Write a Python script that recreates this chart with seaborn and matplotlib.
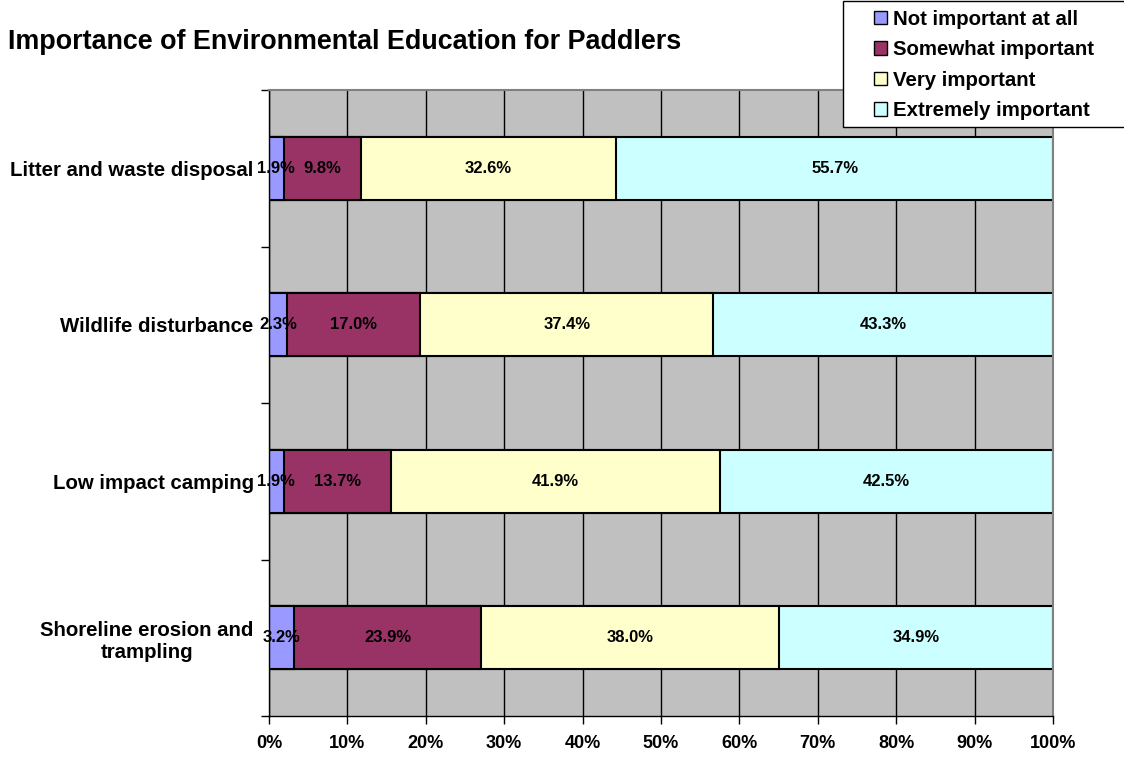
import matplotlib
matplotlib.use("Agg")
import matplotlib.pyplot as plt
from matplotlib.patches import Patch, Rectangle
from matplotlib.ticker import FixedLocator, PercentFormatter
import numpy as np
import pandas as pd
import seaborn as sns

# data (percent of respondents)
topics = ["Litter and waste disposal", "Wildlife disturbance",
          "Low impact camping", "Shoreline erosion and\ntrampling"]
levels = ["Not important at all", "Somewhat important",
          "Very important", "Extremely important"]
not_important = [1.9, 2.3, 1.9, 3.2]
somewhat = [9.8, 17.0, 13.7, 23.9]
very = [32.6, 37.4, 41.9, 38.0]
extremely = [55.7, 43.3, 42.5, 34.9]
colors = ["#9999FF", "#993366", "#FFFFCC", "#CCFFFF"]

df = pd.DataFrame({"topic": topics})
for lvl, vals in zip(levels, [not_important, somewhat, very, extremely]):
    df[lvl] = vals
cum = df[levels].cumsum(axis=1)

sns.set_style("white")
plt.rcParams["font.family"] = ["Liberation Sans", "DejaVu Sans"]
plt.rcParams["font.weight"] = "bold"
plt.rcParams["text.color"] = "black"
plt.rcParams["xtick.color"] = "black"
plt.rcParams["ytick.color"] = "black"

fig = plt.figure(figsize=(11.24, 7.63), dpi=100)
ax = fig.add_axes([0.2393, 0.0616, 0.6975, 0.8204])
ax.set_facecolor("#C0C0C0")

# stacked bars: draw cumulative totals from the back to the front
for lvl, col in reversed(list(zip(levels, colors))):
    sns.barplot(x=cum[lvl], y=df["topic"], orient="h", color=col,
                width=0.4, edgecolor="black", linewidth=1.5, ax=ax,
                saturation=1)

# value labels centred in each segment
for i, row in df.iterrows():
    left = 0
    for lvl in levels:
        v = row[lvl]
        ax.text(left + v / 2, i, f"{v:.1f}%", ha="center", va="center",
                fontsize=12, fontweight="bold", color="black")
        left += v

ax.set_xlim(0, 100)
ax.set_ylim(3.5, -0.5)
ax.xaxis.set_major_locator(FixedLocator(np.arange(0, 101, 10)))
ax.xaxis.set_major_formatter(PercentFormatter(decimals=0))
ax.grid(axis="x", color="black", linewidth=1)
ax.set_axisbelow(True)
ax.set_xlabel("")
ax.set_ylabel("")

ax.yaxis.set_minor_locator(FixedLocator([-0.5, 0.5, 1.5, 2.5, 3.5]))
ax.tick_params(axis="y", which="major", length=0, labelsize=14.7, pad=11,
               labelcolor="black")
ax.tick_params(axis="y", which="minor", length=6, width=1, color="black",
               direction="out", left=True)
ax.tick_params(axis="x", length=6, width=1, color="black", direction="out",
               bottom=True, labelsize=13, pad=8, labelcolor="black")
for lab in ax.get_yticklabels():
    lab.set_fontweight("bold")
    lab.set_multialignment("center")
for lab in ax.get_xticklabels():
    lab.set_fontweight("bold")

for side in ["left", "bottom"]:
    ax.spines[side].set_color("black")
    ax.spines[side].set_linewidth(1)
for side in ["top", "right"]:
    ax.spines[side].set_color("#808080")
    ax.spines[side].set_linewidth(1.5)

fig.text(0.007, 0.945, "Importance of Environmental Education for Paddlers",
         fontsize=19.4, fontweight="bold", va="center", ha="left")

# legend box: white, drawn over the top-right of the plot area
fig.add_artist(Rectangle((0.75, 0.834), 0.3, 0.165, transform=fig.transFigure,
                         facecolor="white", edgecolor="black", linewidth=1,
                         zorder=2))
handles = [Patch(facecolor=c, edgecolor="black", linewidth=1) for c in colors]
leg = fig.legend(handles, levels, loc="upper left",
                 bbox_to_anchor=(0.7667, 1.003), frameon=False,
                 prop={"size": 14.7, "weight": "bold"},
                 handlelength=0.65, handleheight=0.65, handletextpad=0.3,
                 labelspacing=0.57, borderpad=0.08)
leg.set_zorder(5)

fig.savefig("out.png", dpi=100)
